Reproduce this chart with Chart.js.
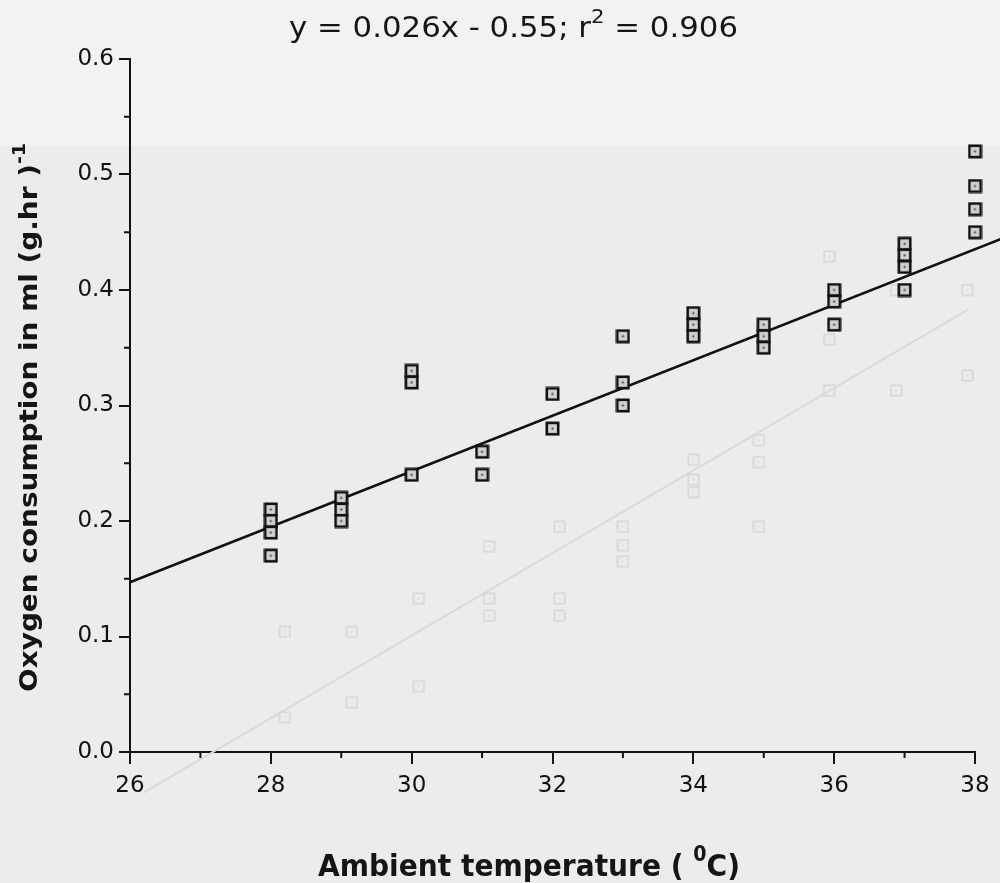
<!DOCTYPE html>
<html>
<head>
<meta charset="utf-8">
<script src="https://cdn.jsdelivr.net/npm/chart.js@4.4.0/dist/chart.umd.min.js"></script>
<style>
    html, body { margin: 0; padding: 0; background: #ededed; }
    #wrap { width: 1000px; height: 883px; }
</style>
</head>
<body>
<div id="wrap"><canvas id="grafica" width="1000" height="883"></canvas></div>
<script>
// Measured points: ambient temperature (C) and oxygen consumption (ml per g.hr).
const temperatures = [28, 28, 28, 28, 29, 29, 29, 30, 30, 30, 31, 31, 32, 32,
    33, 33, 33, 34, 34, 34, 35, 35, 35, 36, 36, 36, 37, 37, 37, 37, 38, 38, 38, 38];
const oxygen = [0.21, 0.20, 0.19, 0.17, 0.22, 0.21, 0.20, 0.33, 0.32, 0.24, 0.26, 0.24, 0.31, 0.28,
    0.36, 0.32, 0.30, 0.38, 0.37, 0.36, 0.37, 0.36, 0.35, 0.40, 0.39, 0.37, 0.44, 0.43, 0.42, 0.40,
    0.52, 0.49, 0.47, 0.45];

// Regression line as drawn (end points).
const fitX = [26, 38.4];
const fitY = [0.147, 0.445];

// Faint show-through marks from the reverse side of the scanned page.
const ghostX = [28.2, 28.2, 29.15, 29.15, 30.1, 30.1, 31.1, 31.1, 31.1, 32.1, 32.1, 32.1,
    33.0, 33.0, 33.0, 34.0, 34.0, 34.0, 34.93, 34.93, 34.93, 35.93, 35.93, 35.93, 36.88, 36.88, 37.89, 37.89];
const ghostY = [0.104, 0.030, 0.104, 0.043, 0.133, 0.057, 0.178, 0.133, 0.118, 0.195, 0.133, 0.118,
    0.195, 0.179, 0.165, 0.253, 0.236, 0.225, 0.270, 0.251, 0.195, 0.429, 0.357, 0.313, 0.400, 0.313, 0.400, 0.326];
const ghostLineX = [26.2, 37.9];
const ghostLineY = [-0.035, 0.383];

// Axis ticks.
const ticksX = [26, 28, 30, 32, 34, 36, 38];
const minorX = [27, 29, 31, 33, 35, 37];
const ticksY = [0.0, 0.1, 0.2, 0.3, 0.4, 0.5, 0.6];
const minorY = [0.05, 0.15, 0.25, 0.35, 0.45, 0.55];

// Texts.
const titleParts = [['y = 0.026x - 0.55; r', false], ['2', true], [' = 0.906', false]];
const xTitleParts = [['Ambient temperature ( ', false], ['0', true], ['C)', false]];
const yTitleParts = [['Oxygen consumption in ml (g.hr )', false], ['-1', true]];

function pairs(xs, ys) {
    return xs.map((x, i) => ({ x: x, y: ys[i] }));
}

// Square marker with a small dot in the middle, like the original plot symbol.
function makeMarker(size, stroke, fill, dot, width) {
    const c = document.createElement('canvas');
    c.width = size;
    c.height = size;
    const g = c.getContext('2d');
    const m = width / 2 + 0.5;
    g.fillStyle = fill;
    g.fillRect(m, m, size - 2 * m, size - 2 * m);
    g.strokeStyle = stroke;
    g.lineWidth = width;
    g.strokeRect(m, m, size - 2 * m, size - 2 * m);
    g.fillStyle = dot;
    g.fillRect(size / 2 - 1, size / 2 - 1, 2, 2);
    return c;
}

// Draws text with superscripts, squeezed horizontally to a target width.
function drawRich(ctx, parts, x, y, size, weight, width, angle) {
    const family = '"DejaVu Sans", sans-serif';
    const supSize = Math.round(size * 0.68);
    let total = 0;
    parts.forEach(p => {
        ctx.font = weight + ' ' + (p[1] ? supSize : size) + 'px ' + family;
        total += ctx.measureText(p[0]).width;
    });
    ctx.save();
    ctx.translate(x, y);
    ctx.rotate(angle);
    ctx.scale(width / total, 1);
    ctx.fillStyle = '#151515';
    ctx.textBaseline = 'alphabetic';
    ctx.textAlign = 'left';
    let pos = 0;
    parts.forEach(p => {
        ctx.font = weight + ' ' + (p[1] ? supSize : size) + 'px ' + family;
        ctx.fillText(p[0], pos, p[1] ? -size * 0.5 : 0);
        pos += ctx.measureText(p[0]).width;
    });
    ctx.restore();
}

const paperPlugin = {
    id: 'paper',
    beforeDraw(chart) {
        const ctx = chart.ctx;
        ctx.save();
        ctx.fillStyle = '#ececec';
        ctx.fillRect(0, 0, chart.width, chart.height);
        ctx.fillStyle = '#f2f2f2';
        ctx.fillRect(0, 0, chart.width, 146);
        ctx.restore();
    },
    afterDraw(chart) {
        const ctx = chart.ctx;
        const xs = chart.scales.x;
        const ys = chart.scales.y;
        const area = chart.chartArea;
        // Minor ticks, shorter than the major ones.
        ctx.save();
        ctx.strokeStyle = '#111';
        ctx.lineWidth = 2;
        ctx.beginPath();
        minorX.forEach(v => {
            const px = xs.getPixelForValue(v);
            ctx.moveTo(px, area.bottom);
            ctx.lineTo(px, area.bottom + 6);
        });
        minorY.forEach(v => {
            const py = ys.getPixelForValue(v);
            ctx.moveTo(area.left, py);
            ctx.lineTo(area.left - 6, py);
        });
        ctx.stroke();
        ctx.restore();

        drawRich(ctx, titleParts, 289, 37, 29, 'normal', 449, 0);
        drawRich(ctx, xTitleParts, 318, 876, 31, 'bold', 422, 0);
        drawRich(ctx, yTitleParts, 37, 692, 25, 'bold', 549, -Math.PI / 2);
    }
};

const mainMarker = makeMarker(15, '#111', '#d2d2d2', '#444', 2.6);
const ghostMarker = makeMarker(13, '#d6d6d6', 'rgba(0,0,0,0)', '#dedede', 1.6);

const tickFont = { family: '"DejaVu Sans", sans-serif', size: 23 };

new Chart(document.getElementById('grafica').getContext('2d'), {
    type: 'scatter',
    data: {
        datasets: [
            {
                type: 'line',
                data: pairs(ghostLineX, ghostLineY),
                borderColor: '#d9d9d9',
                borderWidth: 2,
                pointRadius: 0,
                clip: false,
                order: 4
            },
            {
                data: pairs(ghostX, ghostY),
                pointStyle: ghostMarker,
                clip: false,
                order: 3
            },
            {
                type: 'line',
                data: pairs(fitX, fitY),
                borderColor: '#111',
                borderWidth: 2.6,
                pointRadius: 0,
                clip: false,
                order: 2
            },
            {
                data: pairs(temperatures, oxygen),
                pointStyle: mainMarker,
                clip: false,
                order: 1
            }
        ]
    },
    options: {
        responsive: false,
        animation: false,
        layout: { padding: { top: 59, right: 25, left: 0, bottom: 0 } },
        plugins: { legend: { display: false }, tooltip: { enabled: false } },
        scales: {
            x: {
                type: 'linear',
                min: 26,
                max: 38,
                afterBuildTicks: s => { s.ticks = ticksX.map(v => ({ value: v })); },
                afterFit: s => { s.height = 131; },
                ticks: { font: tickFont, color: '#111', padding: 8, maxRotation: 0 },
                grid: { drawOnChartArea: false, color: '#111', lineWidth: 2, tickLength: 12 },
                border: { color: '#111', width: 2 }
            },
            y: {
                type: 'linear',
                min: 0,
                max: 0.6,
                afterBuildTicks: s => { s.ticks = ticksY.map(v => ({ value: v })); },
                afterFit: s => { s.width = 130; },
                ticks: { font: tickFont, color: '#111', padding: 5, callback: v => v.toFixed(1) },
                grid: { drawOnChartArea: false, color: '#111', lineWidth: 2, tickLength: 11 },
                border: { color: '#111', width: 2 }
            }
        }
    },
    plugins: [paperPlugin]
});
</script>
</body>
</html>
